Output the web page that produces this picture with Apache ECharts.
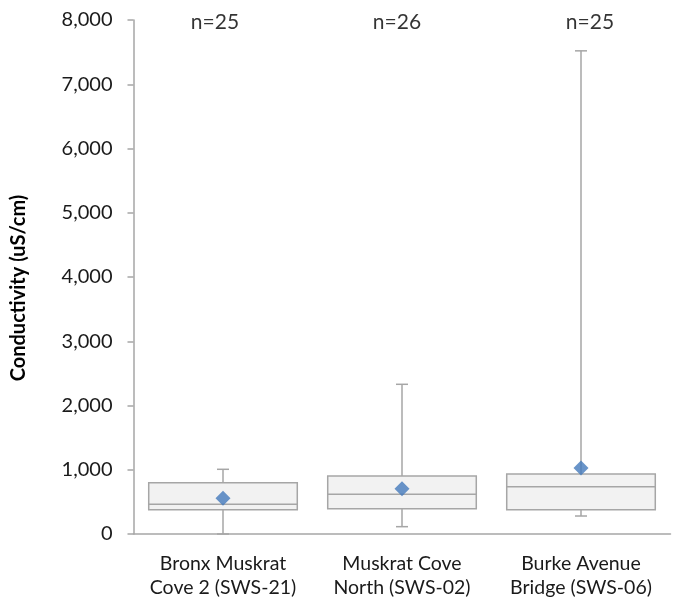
<!DOCTYPE html>
<html>
<head>
<meta charset="utf-8">
<script src="https://cdn.jsdelivr.net/npm/echarts@6/dist/echarts.min.js"></script>
<style>html,body{margin:0;padding:0;background:#fff}#c{width:678px;height:604px}</style>
</head>
<body>
<div id="c"></div>
<script>
// Data
var categories = ['Bronx Muskrat\nCove 2 (SWS-21)', 'Muskrat Cove\nNorth (SWS-02)', 'Burke Avenue\nBridge (SWS-06)'];
var whiskerMin = [0, 114, 280];
var q1 = [378, 394, 378];
var median = [462, 618, 736];
var q3 = [798, 903, 934];
var whiskerMax = [1007, 2330, 7520];
var means = [556, 705, 1027];
var nLabels = ['n=25', 'n=26', 'n=25'];
var yTicks = { min: 0, max: 8000, interval: 1000 };

// layout-only: horizontal nudges of the n= text boxes
var nLabelNudgeX = [-8, -5, 9];

var boxData = categories.map(function (c, i) {
  return [i, whiskerMin[i], q1[i], median[i], q3[i], whiskerMax[i]];
});
var meanData = categories.map(function (c, i) { return [i, means[i]]; });
var nData = categories.map(function (c, i) {
  return { value: [i, yTicks.max], label: { formatter: nLabels[i], offset: [nLabelNudgeX[i], 2] } };
});

var FONT = 'Lato';
var chart = echarts.init(document.getElementById('c'), null, { renderer: 'canvas' });
chart.setOption({
  animation: false,
  textStyle: { fontFamily: FONT },
  grid: { left: 133.5, right: 7.5, top: 20, bottom: 70, containLabel: false },
  xAxis: {
    type: 'category',
    data: categories,
    axisLine: { lineStyle: { color: '#a6a6a6', width: 1.5 } },
    axisTick: { show: false },
    axisLabel: { color: '#1a1a1a', fontSize: 19.5, fontFamily: FONT, margin: 18, lineHeight: 24,
      interval: 0, hideOverlap: false },
    splitLine: { show: false }
  },
  yAxis: {
    type: 'value',
    min: yTicks.min, max: yTicks.max, interval: yTicks.interval,
    axisLine: { show: true, lineStyle: { color: '#a6a6a6', width: 1.5 } },
    axisTick: { show: true, length: 6, lineStyle: { color: '#a6a6a6', width: 1.5 } },
    axisLabel: {
      color: '#1a1a1a', fontSize: 20, fontFamily: FONT, margin: 21,
      padding: [3, 0, 0, 0],
      formatter: function (v) { return v.toLocaleString('en-US'); }
    },
    splitLine: { show: false }
  },
  graphic: [{
    type: 'text',
    x: 19, y: 288,
    rotation: Math.PI / 2,
    style: {
      text: 'Conductivity (uS/cm)',
      fontFamily: FONT, fontSize: 20, fontWeight: 'bold', fill: '#000',
      align: 'center', verticalAlign: 'middle'
    }
  }],
  series: [{
    type: 'custom',
    data: boxData,
    encode: { x: 0, y: [1, 2, 3, 4, 5] },
    renderItem: function (params, api) {
      var idx = api.value(0);
      var band = api.size([1, 0])[0];
      var half = band * 0.83 / 2;
      var cap = 6;
      var pMin = api.coord([idx, api.value(1)]);
      var pQ1 = api.coord([idx, api.value(2)]);
      var pMed = api.coord([idx, api.value(3)]);
      var pQ3 = api.coord([idx, api.value(4)]);
      var pMax = api.coord([idx, api.value(5)]);
      var x = pMed[0];
      var ls = { stroke: '#a6a6a6', lineWidth: 1.5, fill: null };
      return {
        type: 'group',
        children: [
          { type: 'line', shape: { x1: x, y1: pMax[1], x2: x, y2: pQ3[1] }, style: ls },
          { type: 'line', shape: { x1: x, y1: pQ1[1], x2: x, y2: pMin[1] }, style: ls },
          { type: 'line', shape: { x1: x - cap, y1: pMax[1], x2: x + cap, y2: pMax[1] }, style: ls },
          { type: 'line', shape: { x1: x - cap, y1: pMin[1], x2: x + cap, y2: pMin[1] }, style: ls },
          { type: 'rect', shape: { x: x - half, y: pQ3[1], width: half * 2, height: pQ1[1] - pQ3[1] },
            style: { fill: '#f2f2f2', stroke: '#a6a6a6', lineWidth: 1.5 } },
          { type: 'line', shape: { x1: x - half, y1: pMed[1], x2: x + half, y2: pMed[1] }, style: ls }
        ]
      };
    },
    z: 2
  }, {
    type: 'scatter',
    data: meanData,
    symbol: 'diamond',
    symbolSize: [15, 15],
    itemStyle: { color: '#4479bb' },
    z: 5
  }, {
    type: 'scatter',
    data: nData,
    symbolSize: 0,
    silent: true,
    label: {
      show: true, position: 'inside',
      fontFamily: FONT, fontSize: 21, color: '#000'
    },
    z: 6
  }]
});
</script>
</body>
</html>
